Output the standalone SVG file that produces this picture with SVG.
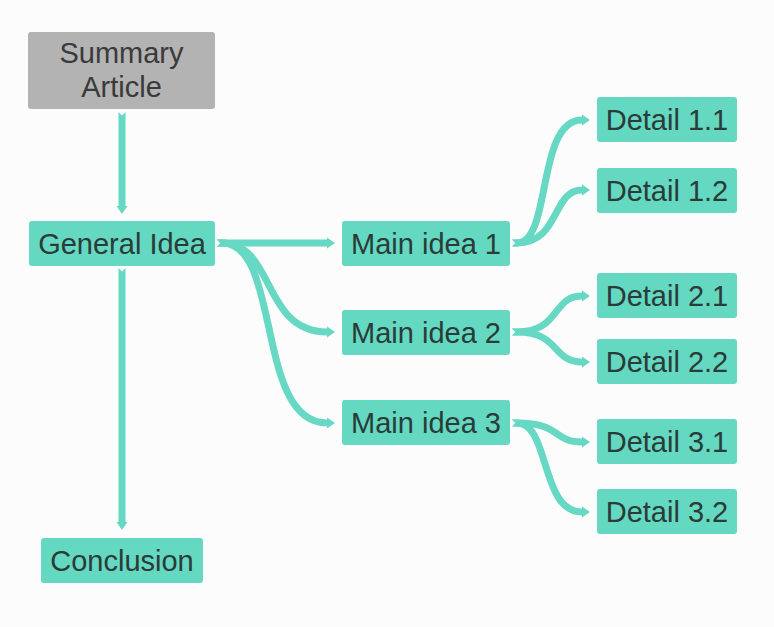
<svg xmlns="http://www.w3.org/2000/svg" width="774" height="627" viewBox="0 0 774 627">
<defs>
<style>
.node rect{fill:#64d8c1;}
.node.root rect{fill:#b3b3b3;}
.node text{font-family:"Liberation Sans",Arial,sans-serif;font-size:29px;fill:#2a3b38;text-anchor:middle;}
.node.root text{fill:#3a3a3a;}
.conn path{fill:none;stroke:#66d8c3;stroke-width:7;stroke-linecap:butt;marker-start:url(#tail);marker-end:url(#head);}
</style>
<marker id="head" markerUnits="userSpaceOnUse" markerWidth="10" markerHeight="12" refX="0" refY="6" orient="auto" overflow="visible">
<path d="M0,0.5 L8,6 L0,11.5 z" fill="#66d8c3"/>
</marker>
<marker id="tail" markerUnits="userSpaceOnUse" markerWidth="6" markerHeight="12" refX="5" refY="6" orient="auto" overflow="visible">
<path d="M0,2.5 L5.2,2.5 L5.2,9.5 L0,9.5 L3.5,6 z" fill="#66d8c3"/>
</marker>
</defs>
<rect width="774" height="627" fill="#fcfcfc"/>
<g id="connectors" class="conn">
<path d="M122,117 L122,206"/>
<path d="M122,273 L122,522"/>
<path d="M222,243 L327,243"/>
<path d="M222,243 C275,243 262,332 327,332"/>
<path d="M222,243 C282,243 255,423 327,423"/>
<path d="M517,243 C552,243 536,120 582,120"/>
<path d="M517,243 C560,243 552,190 582,190"/>
<path d="M517,332 C560,332 552,296 582,296"/>
<path d="M517,332 C560,332 552,362 582,362"/>
<path d="M517,423 C562,423 552,442 582,442"/>
<path d="M517,423 C550,423 540,512 582,512"/>
</g>
<g id="summary" class="node root"><rect x="28" y="32" width="187" height="77" rx="3"/><text x="121.5" y="63">Summary</text><text x="121.5" y="97">Article</text></g>
<g id="general" class="node"><rect x="29" y="221" width="186" height="45" rx="3"/><text x="122" y="254">General Idea</text></g>
<g id="conclusion" class="node"><rect x="41" y="538" width="162" height="45" rx="3"/><text x="122" y="571">Conclusion</text></g>
<g id="main1" class="node"><rect x="342" y="221" width="168" height="45" rx="3"/><text x="426" y="254">Main idea 1</text></g>
<g id="main2" class="node"><rect x="342" y="310" width="168" height="45" rx="3"/><text x="426" y="343">Main idea 2</text></g>
<g id="main3" class="node"><rect x="342" y="400" width="168" height="45" rx="3"/><text x="426" y="433">Main idea 3</text></g>
<g id="d11" class="node"><rect x="597" y="97" width="140" height="45" rx="3"/><text x="667" y="130">Detail 1.1</text></g>
<g id="d12" class="node"><rect x="597" y="168" width="140" height="45" rx="3"/><text x="667" y="201">Detail 1.2</text></g>
<g id="d21" class="node"><rect x="597" y="273" width="140" height="45" rx="3"/><text x="667" y="306">Detail 2.1</text></g>
<g id="d22" class="node"><rect x="597" y="339" width="140" height="45" rx="3"/><text x="667" y="372">Detail 2.2</text></g>
<g id="d31" class="node"><rect x="597" y="419" width="140" height="45" rx="3"/><text x="667" y="452">Detail 3.1</text></g>
<g id="d32" class="node"><rect x="597" y="489" width="140" height="45" rx="3"/><text x="667" y="522">Detail 3.2</text></g>
</svg>
